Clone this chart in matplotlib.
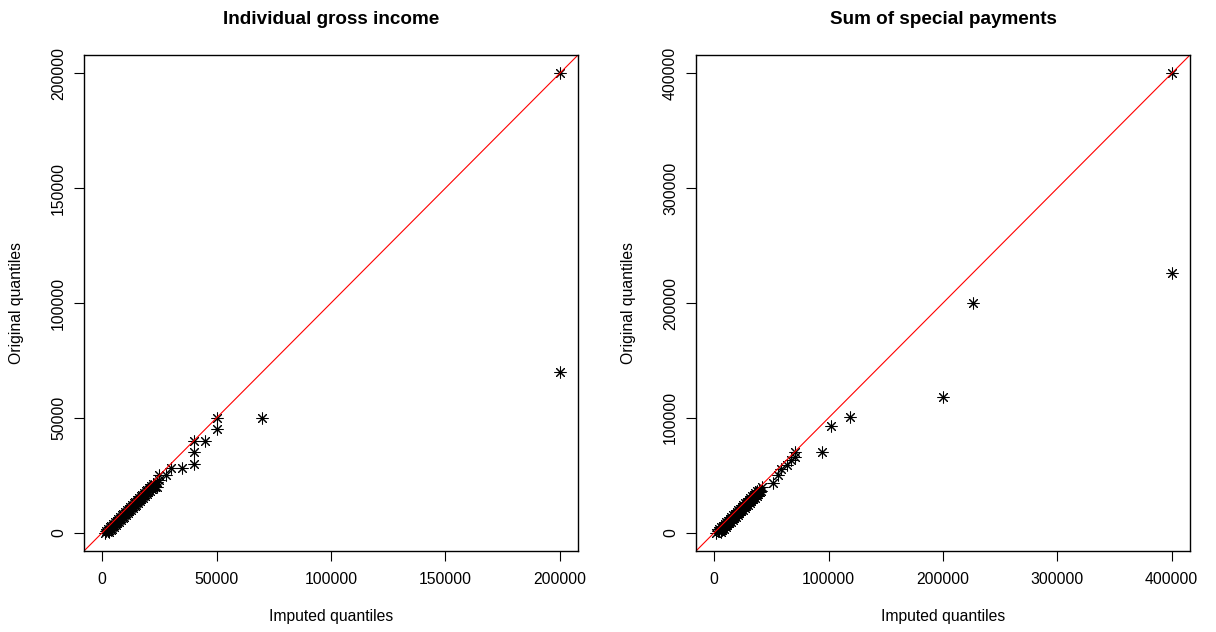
import matplotlib
matplotlib.use("Agg")
import matplotlib.pyplot as plt
from matplotlib.ticker import FixedLocator

plt.rcParams["font.family"] = ["Liberation Sans", "DejaVu Sans"]

# Individual gross income: imputed vs original quantiles
income_imputed = [
    1000, 2850, 2300, 1750, 3600, 3050, 2500, 4350, 3800, 3250,
    5100, 4550, 4000, 5850, 5300, 4750, 6600, 6050, 5500, 7350,
    6800, 6250, 8100, 7550, 7000, 8850, 8300, 7750, 9600, 9050,
    8500, 10350, 9800, 9250, 11100, 10550, 10000, 11850, 11300, 10750,
    12600, 12050, 11500, 13350, 12800, 12250, 14100, 13550, 13000, 14850,
    14300, 13750, 15600, 15050, 14500, 16350, 15800, 15250, 17100, 16550,
    16000, 17850, 17300, 16750, 18600, 18050, 17500, 19350, 18800, 18250,
    20100, 19550, 19000, 20850, 20300, 19750, 21600, 21050, 20500, 22350,
    21800, 21250, 23100, 22550, 22000,
    23000, 24000, 24000, 25000, 25000, 28000, 30000, 35000, 40000, 40000,
    40000, 45000, 50000, 50000, 70000, 200000, 200000,
]
income_original = [
    0, 250, 500, 750, 1000, 1250, 1500, 1750, 2000, 2250,
    2500, 2750, 3000, 3250, 3500, 3750, 4000, 4250, 4500, 4750,
    5000, 5250, 5500, 5750, 6000, 6250, 6500, 6750, 7000, 7250,
    7500, 7750, 8000, 8250, 8500, 8750, 9000, 9250, 9500, 9750,
    10000, 10250, 10500, 10750, 11000, 11250, 11500, 11750, 12000, 12250,
    12500, 12750, 13000, 13250, 13500, 13750, 14000, 14250, 14500, 14750,
    15000, 15250, 15500, 15750, 16000, 16250, 16500, 16750, 17000, 17250,
    17500, 17750, 18000, 18250, 18500, 18750, 19000, 19250, 19500, 19750,
    20000, 20250, 20500, 20750, 21000,
    20000, 20000, 22000, 23000, 25000, 25000, 28000, 28000, 30000, 35000,
    40000, 40000, 45000, 50000, 50000, 70000, 200000,
]

# Sum of special payments: imputed vs original quantiles
special_imputed = [
    1500, 5500, 4200, 3000, 7000, 5700, 4500, 8500, 7200, 6000,
    10000, 8700, 7500, 11500, 10200, 9000, 13000, 11700, 10500, 14500,
    13200, 12000, 16000, 14700, 13500, 17500, 16200, 15000, 19000, 17700,
    16500, 20500, 19200, 18000, 22000, 20700, 19500, 23500, 22200, 21000,
    25000, 23700, 22500, 26500, 25200, 24000, 28000, 26700, 25500, 29500,
    28200, 27000, 31000, 29700, 28500, 32500, 31200, 30000, 34000, 32700,
    31500, 35500, 34200, 33000, 37000, 35700, 34500, 38500, 37200, 36000,
    40000, 38700, 37500, 41000, 39500,
    42000, 51000, 56000, 58000, 64000, 67000, 71000, 71000, 94000, 102000,
    119000, 200000, 226000, 400000, 400000,
]
special_original = [
    0, 500, 1000, 1500, 2000, 2500, 3000, 3500, 4000, 4500,
    5000, 5500, 6000, 6500, 7000, 7500, 8000, 8500, 9000, 9500,
    10000, 10500, 11000, 11500, 12000, 12500, 13000, 13500, 14000, 14500,
    15000, 15500, 16000, 16500, 17000, 17500, 18000, 18500, 19000, 19500,
    20000, 20500, 21000, 21500, 22000, 22500, 23000, 23500, 24000, 24500,
    25000, 25500, 26000, 26500, 27000, 27500, 28000, 28500, 29000, 29500,
    30000, 30500, 31000, 31500, 32000, 32500, 33000, 33500, 34000, 34500,
    35000, 35500, 36000, 36500, 37000,
    40000, 43000, 50000, 55000, 59000, 63000, 66000, 70000, 70000, 93000,
    101000, 118000, 200000, 226000, 400000,
]

panels = [
    ("Individual gross income", income_imputed, income_original,
     [0, 50000, 100000, 150000, 200000]),
    ("Sum of special payments", special_imputed, special_original,
     [0, 100000, 200000, 300000, 400000]),
]

fig = plt.figure(figsize=(12.16, 6.32), dpi=100)
lefts = [84 / 1216, 696 / 1216]
asterisk = (8, 2, 0)

for left, (title, xs, ys, ticks) in zip(lefts, panels):
    ax = fig.add_axes([left, 81 / 632, 494 / 1216, 496 / 632])
    ax.plot(xs, ys, ls="none", marker=asterisk, ms=8.5, mew=0.75,
            mec="black", mfc="none")
    ax.axline((0, 0), slope=1, color="#FF0000", lw=0.8)

    # R-style 4% padding around the data range
    lo = min(min(xs), min(ys))
    hi = max(max(xs), max(ys))
    pad = 0.04 * (hi - lo)
    ax.set_xlim(lo - pad, hi + pad)
    ax.set_ylim(lo - pad, hi + pad)

    ax.xaxis.set_major_locator(FixedLocator(ticks))
    ax.yaxis.set_major_locator(FixedLocator(ticks))
    ax.set_xticklabels([str(t) for t in ticks])
    ax.set_yticklabels([str(t) for t in ticks])
    ax.tick_params(length=7, width=0.8, labelsize=11.3, pad=8, color="black")
    ax.tick_params(axis="y", labelrotation=90, pad=6)
    for lab in ax.get_yticklabels():
        lab.set_va("center")
    for sp in ax.spines.values():
        sp.set_linewidth(1.0)

    ax.set_title(title, fontweight="bold", fontsize=13.6, pad=22)
    ax.set_xlabel("Imputed quantiles", fontsize=11.3)
    ax.set_ylabel("Original quantiles", fontsize=11.3)
    ax.xaxis.set_label_coords(0.5, -0.117)
    ax.yaxis.set_label_coords(-0.122, 0.5)

fig.savefig("out.png", dpi=100)
